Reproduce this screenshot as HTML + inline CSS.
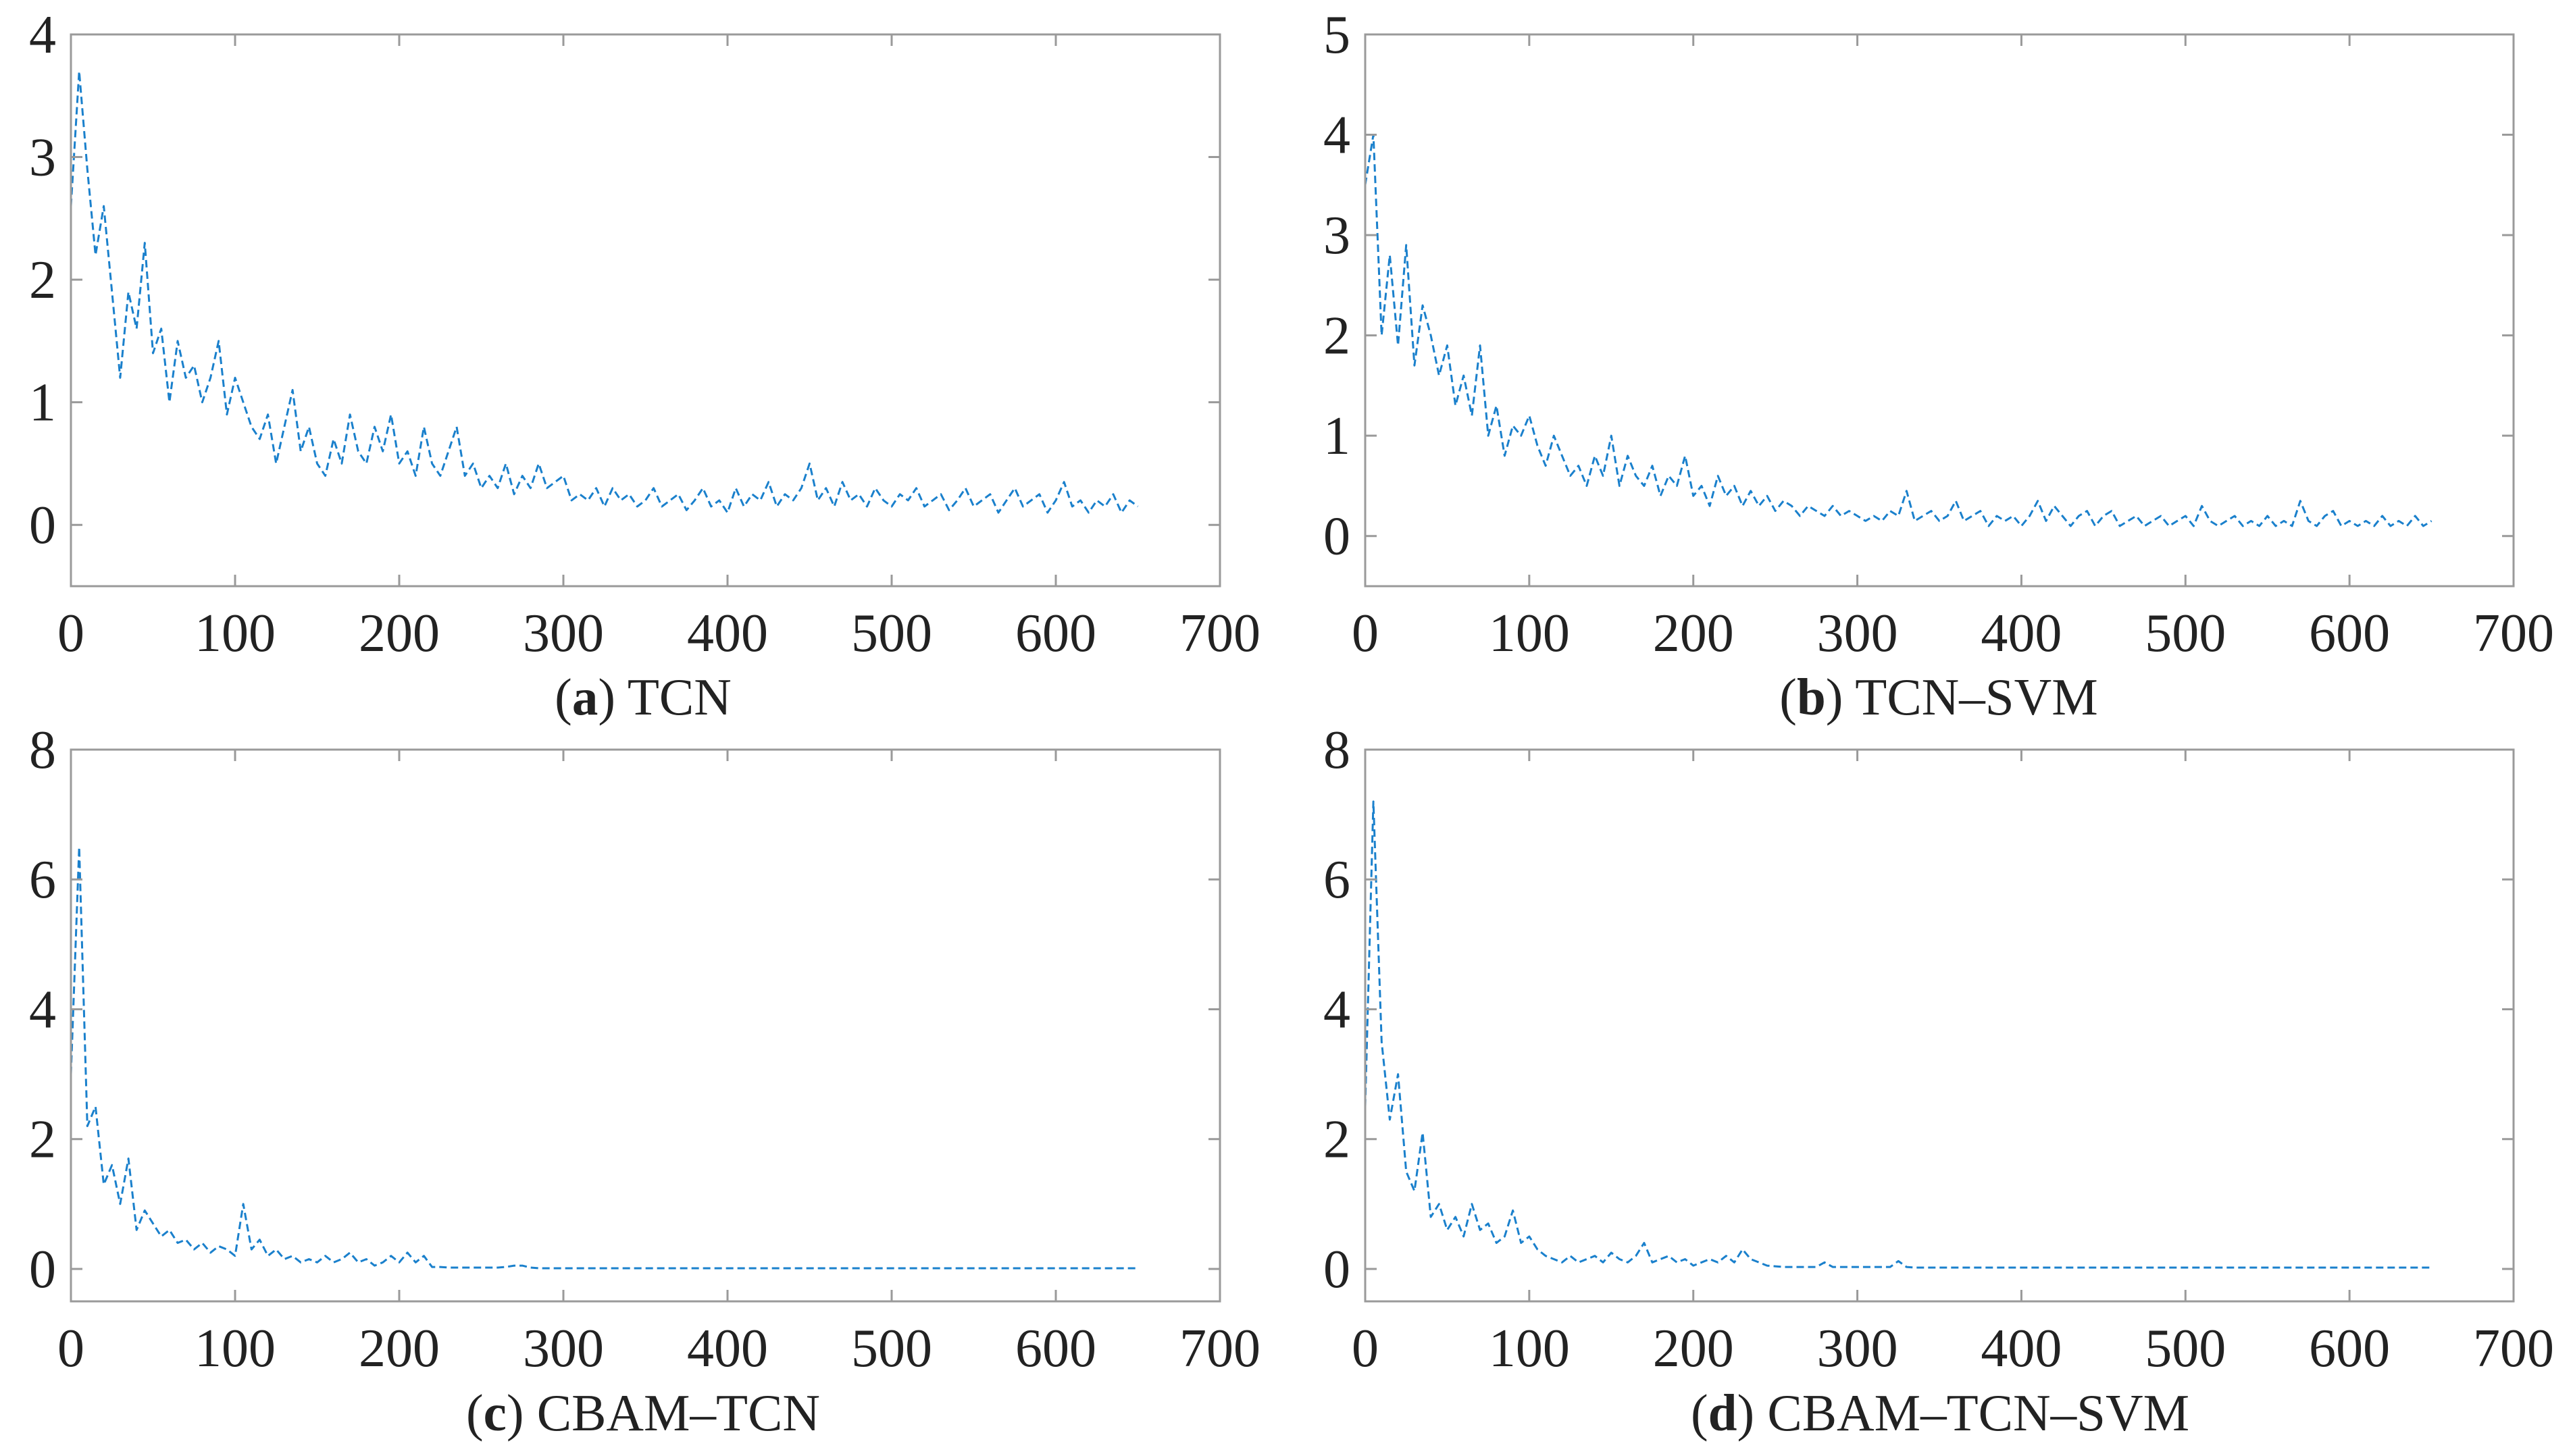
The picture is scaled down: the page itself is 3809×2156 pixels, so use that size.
<!DOCTYPE html>
<html><head><meta charset="utf-8">
<style>
html,body{margin:0;padding:0;background:#fff;}
svg{display:block;}
text{font-family:"Liberation Serif",serif;fill:#222;}
</style></head>
<body>
<svg id="fig" width="3809" height="2156" viewBox="0 0 3809 2156" xmlns="http://www.w3.org/2000/svg"></svg>
<script>
// Data: loss values sampled every 5 epochs starting at 0
const xStep = 5;
const xTicks = [0,100,200,300,400,500,600,700];
const seriesTCN = [2.6,3.7,2.9,2.2,2.6,1.9,1.2,1.9,1.6,2.3,1.4,1.6,1.0,1.5,1.2,1.3,1.0,1.2,1.5,0.9,1.2,1.0,0.8,0.7,0.9,0.5,0.8,1.1,0.6,0.8,0.5,0.4,0.7,0.5,0.9,0.6,0.5,0.8,0.6,0.9,0.5,0.6,0.4,0.8,0.5,0.4,0.6,0.8,0.4,0.5,0.3,0.4,0.3,0.5,0.25,0.4,0.3,0.5,0.3,0.35,0.4,0.2,0.25,0.2,0.3,0.15,0.3,0.2,0.25,0.15,0.2,0.3,0.15,0.2,0.25,0.12,0.2,0.3,0.15,0.2,0.1,0.3,0.15,0.25,0.2,0.35,0.15,0.25,0.2,0.3,0.5,0.2,0.3,0.15,0.35,0.2,0.25,0.15,0.3,0.2,0.15,0.25,0.2,0.3,0.15,0.2,0.25,0.12,0.2,0.3,0.15,0.2,0.25,0.1,0.2,0.3,0.15,0.2,0.25,0.1,0.2,0.35,0.15,0.2,0.1,0.2,0.15,0.25,0.1,0.2,0.15];
const seriesTCNSVM = [3.5,4.0,2.0,2.8,1.9,2.9,1.7,2.3,2.0,1.6,1.9,1.3,1.6,1.2,1.9,1.0,1.3,0.8,1.1,1.0,1.2,0.9,0.7,1.0,0.8,0.6,0.7,0.5,0.8,0.6,1.0,0.5,0.8,0.6,0.5,0.7,0.4,0.6,0.5,0.8,0.4,0.5,0.3,0.6,0.4,0.5,0.3,0.45,0.3,0.4,0.25,0.35,0.3,0.2,0.3,0.25,0.2,0.3,0.2,0.25,0.2,0.15,0.2,0.15,0.25,0.2,0.45,0.15,0.2,0.25,0.15,0.2,0.35,0.15,0.2,0.25,0.1,0.2,0.15,0.2,0.1,0.2,0.35,0.15,0.3,0.2,0.1,0.2,0.25,0.1,0.2,0.25,0.1,0.15,0.2,0.1,0.15,0.2,0.1,0.15,0.2,0.1,0.3,0.15,0.1,0.15,0.2,0.1,0.15,0.1,0.2,0.1,0.15,0.1,0.35,0.15,0.1,0.2,0.25,0.1,0.15,0.1,0.15,0.1,0.2,0.1,0.15,0.1,0.2,0.1,0.15];
const seriesCBAMTCN = [3.0,6.5,2.2,2.5,1.3,1.6,1.0,1.7,0.6,0.9,0.7,0.5,0.6,0.4,0.45,0.3,0.4,0.25,0.35,0.3,0.2,1.0,0.3,0.45,0.2,0.3,0.15,0.2,0.1,0.15,0.1,0.2,0.1,0.15,0.25,0.1,0.15,0.05,0.1,0.2,0.1,0.25,0.1,0.2,0.03,0.03,0.02,0.02,0.02,0.02,0.02,0.02,0.02,0.03,0.05,0.05,0.02,0.01,0.01,0.01,0.01,0.01,0.01,0.01,0.01,0.01,0.01,0.01,0.01,0.01,0.01,0.01,0.01,0.01,0.01,0.01,0.01,0.01,0.01,0.01,0.01,0.01,0.01,0.01,0.01,0.01,0.01,0.01,0.01,0.01,0.01,0.01,0.01,0.01,0.01,0.01,0.01,0.01,0.01,0.01,0.01,0.01,0.01,0.01,0.01,0.01,0.01,0.01,0.01,0.01,0.01,0.01,0.01,0.01,0.01,0.01,0.01,0.01,0.01,0.01,0.01,0.01,0.01,0.01,0.01,0.01,0.01,0.01,0.01,0.01,0.01];
const seriesCBAMTCNSVM = [2.5,7.2,3.5,2.3,3.0,1.5,1.2,2.1,0.8,1.0,0.6,0.8,0.5,1.0,0.6,0.7,0.4,0.5,0.9,0.4,0.5,0.3,0.2,0.15,0.1,0.2,0.1,0.15,0.2,0.1,0.25,0.15,0.1,0.2,0.4,0.1,0.15,0.2,0.1,0.15,0.05,0.1,0.15,0.1,0.2,0.1,0.3,0.15,0.1,0.05,0.04,0.03,0.03,0.03,0.03,0.03,0.1,0.03,0.03,0.03,0.03,0.03,0.03,0.03,0.03,0.12,0.03,0.02,0.02,0.02,0.02,0.02,0.02,0.02,0.02,0.02,0.02,0.02,0.02,0.02,0.02,0.02,0.02,0.02,0.02,0.02,0.02,0.02,0.02,0.02,0.02,0.02,0.02,0.02,0.02,0.02,0.02,0.02,0.02,0.02,0.02,0.02,0.02,0.02,0.02,0.02,0.02,0.02,0.02,0.02,0.02,0.02,0.02,0.02,0.02,0.02,0.02,0.02,0.02,0.02,0.02,0.02,0.02,0.02,0.02,0.02,0.02,0.02,0.02,0.02,0.02];
const yTicksA = [0,1,2,3,4];
const yTicksB = [0,1,2,3,4,5];
const yTicksCD = [0,2,4,6,8];

const NS = "http://www.w3.org/2000/svg";
const svg = document.getElementById('fig');
function mk(tag, attrs, parent){
  const e = document.createElementNS(NS, tag);
  for (const k in attrs) e.setAttribute(k, attrs[k]);
  (parent||svg).appendChild(e);
  return e;
}
const panels = [
  {id:'tcn', L:105, R:1806, T:51, B:868, ymin:-0.5, ymax:4, yt:yTicksA, data:seriesTCN, cap:['a',' TCN'], cx:952, cy:1058},
  {id:'tcn-svm', L:2021, R:3721, T:51, B:868, ymin:-0.5, ymax:5, yt:yTicksB, data:seriesTCNSVM, cap:['b',' TCN–SVM'], cx:2870, cy:1058},
  {id:'cbam-tcn', L:105, R:1806, T:1110, B:1927, ymin:-0.5, ymax:8, yt:yTicksCD, data:seriesCBAMTCN, cap:['c',' CBAM–TCN'], cx:952, cy:2118},
  {id:'cbam-tcn-svm', L:2021, R:3721, T:1110, B:1927, ymin:-0.5, ymax:8, yt:yTicksCD, data:seriesCBAMTCNSVM, cap:['d',' CBAM–TCN–SVM'], cx:2872, cy:2118}
];
panels.forEach(p=>{
  const g = mk('g',{});
  
  
  const xs = v => p.L + (v-0)/(700-0)*(p.R-p.L);
  const ys = v => p.B - (v-p.ymin)/(p.ymax-p.ymin)*(p.B-p.T);
  let d = '';
  p.data.forEach((v,i)=>{ d += (i?'L':'M') + xs(i*xStep).toFixed(1) + ' ' + ys(v).toFixed(1) + ' '; });
  const line = mk('path',{d:d, fill:'none', stroke:'#1a80cc', 'stroke-width':3, 'stroke-dasharray':'11 6', 'stroke-linejoin':'round'}, g);
  
  
  const box = mk('rect',{x:p.L, y:p.T, width:p.R-p.L, height:p.B-p.T, fill:'none', stroke:'#9a9a9a', 'stroke-width':3}, g);
  
  
  xTicks.forEach(t=>{
    const x = xs(t);
    mk('line',{x1:x,x2:x,y1:p.B,y2:p.B-17,stroke:'#9a9a9a','stroke-width':3},g);
    mk('line',{x1:x,x2:x,y1:p.T,y2:p.T+17,stroke:'#9a9a9a','stroke-width':3},g);
    const tx = mk('text',{x:x, y:p.B+96, 'font-size':80, 'text-anchor':'middle'}, g);
    tx.textContent = t;
    
    
  });
  p.yt.forEach(t=>{
    const y = ys(t);
    mk('line',{x1:p.L,x2:p.L+17,y1:y,y2:y,stroke:'#9a9a9a','stroke-width':3},g);
    mk('line',{x1:p.R,x2:p.R-17,y1:y,y2:y,stroke:'#9a9a9a','stroke-width':3},g);
    const ty = mk('text',{x:p.L-22, y:y+27, 'font-size':80, 'text-anchor':'end'}, g);
    ty.textContent = t;
    
    
  });
  const cap = mk('text',{x:p.cx, y:p.cy, 'font-size':77, 'text-anchor':'middle'}, g);
  
  
  const t1 = mk('tspan',{},cap); t1.textContent='(';
  const t2 = mk('tspan',{'font-weight':'bold'},cap); t2.textContent=p.cap[0];
  const t3 = mk('tspan',{},cap); t3.textContent=')'+p.cap[1];
});
</script>
</body></html>
